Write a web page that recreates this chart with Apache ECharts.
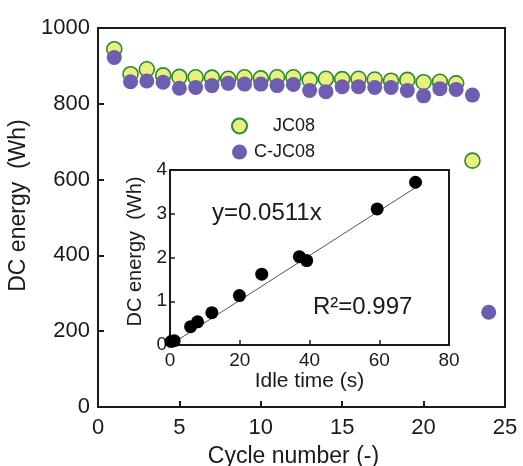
<!DOCTYPE html>
<html>
<head>
<meta charset="utf-8">
<script src="https://cdn.jsdelivr.net/npm/echarts@6/dist/echarts.min.js"></script>
<style>html,body{margin:0;padding:0;background:#fff}#c{width:523px;height:466px}</style>
</head>
<body>
<div id="c"></div>
<script>
// Main chart data
const cyclesJC08 = [1,2,3,4,5,6,7,8,9,10,11,12,13,14,15,16,17,18,19,20,21,22,23];
const valuesJC08 = [944,878,891,875,871,870,869,866,870,867,870,870,863,866,865,866,864,861,863,857,858,854,650];
const cyclesCJC08 = [1,2,3,4,5,6,7,8,9,10,11,12,13,14,15,16,17,18,19,20,21,22,23,24];
const valuesCJC08 = [922,858,860,857,841,843,848,854,852,852,848,851,835,832,845,845,843,843,835,821,840,838,823,250];
// Inset data
const idleTime = [0.3,1.2,5.9,7.9,12.0,19.9,26.3,37.1,39.2,59.4,70.4];
const idleEnergy = [0.08,0.1,0.42,0.53,0.74,1.13,1.62,2.02,1.93,3.11,3.72];
const fitLine = [[0,0],[72,3.68]];
const xTicksMain = [0,5,10,15,20,25];
const yTicksMain = [0,200,400,600,800,1000];

const FONT = 'Liberation Sans, Arial, Helvetica, sans-serif';
const AX = '#1a1a1a';
const pair = (xs, ys) => xs.map((x,i)=>[x, ys[i]]);
const plain = v => String(v);

const chart = echarts.init(document.getElementById('c'));
chart.setOption({
  animation: false,
  backgroundColor: '#fff',
  textStyle: {fontFamily: FONT, color: '#1a1a1a'},
  grid: [
    {left: 98, right: 18, top: 28, bottom: 59, show: true, borderColor: AX, borderWidth: 2, backgroundColor: 'transparent', containLabel: false, outerBoundsMode: 'none'},
    {left: 170, right: 74, top: 170, bottom: 121, show: true, borderColor: AX, borderWidth: 2, backgroundColor: '#fff', z: 5, containLabel: false, outerBoundsMode: 'none'}
  ],
  legend: {
    orient: 'vertical', left: 226, top: 112, itemWidth: 15, itemHeight: 15, itemGap: 8,
    icon: 'circle',
    data: ['JC08','C-JC08'],
    formatter: n => '{a|' + n + '}',
    textStyle: {fontSize: 18, fontFamily: FONT, color: '#1a1a1a', rich: {a: {width: 63, align: 'right', fontSize: 18, fontFamily: FONT}}}
  },
  xAxis: [
    {gridIndex: 0, type: 'value', min: xTicksMain[0], max: xTicksMain[xTicksMain.length-1], interval: 5,
     name: 'Cycle number (-)', nameLocation: 'middle', nameGap: 38,
     nameTextStyle: {fontSize: 23, fontFamily: FONT, color: '#1a1a1a', padding: [0,16,0,0]},
     axisLine: {show: true, lineStyle: {color: AX, width: 2}},
     axisTick: {show: true, inside: true, length: 6, lineStyle: {color: AX, width: 2}},
     axisLabel: {fontSize: 22, color: '#1a1a1a', margin: 10, fontFamily: FONT, formatter: plain},
     splitLine: {show: false}},
    {gridIndex: 1, type: 'value', min: 0, max: 80, interval: 20,
     name: 'Idle time (s)', nameLocation: 'middle', nameGap: 24,
     nameTextStyle: {fontSize: 21, fontFamily: FONT, color: '#1a1a1a'},
     axisLine: {show: true, lineStyle: {color: AX, width: 2}},
     axisTick: {show: true, inside: true, length: 5, lineStyle: {color: AX, width: 1.5}},
     axisLabel: {fontSize: 19, color: '#1a1a1a', margin: 6, fontFamily: FONT, formatter: plain},
     splitLine: {show: false}, z: 6}
  ],
  yAxis: [
    {gridIndex: 0, type: 'value', min: yTicksMain[0], max: yTicksMain[yTicksMain.length-1], interval: 200,
     name: 'DC energy  (Wh)', nameLocation: 'middle', nameGap: 63,
     nameTextStyle: {fontSize: 23, fontFamily: FONT, color: '#1a1a1a', padding: [0,0,0,24]},
     axisLine: {show: true, lineStyle: {color: AX, width: 2}},
     axisTick: {show: true, inside: true, length: 6, lineStyle: {color: AX, width: 2}},
     axisLabel: {fontSize: 22, color: '#1a1a1a', margin: 8, fontFamily: FONT, formatter: plain},
     splitLine: {show: false}},
    {gridIndex: 1, type: 'value', min: 0, max: 4, interval: 1,
     name: 'DC energy  (Wh)', nameLocation: 'middle', nameGap: 22,
     nameTextStyle: {fontSize: 20, fontFamily: FONT, color: '#1a1a1a', padding: [0,0,0,12]},
     axisLine: {show: true, lineStyle: {color: AX, width: 2}},
     axisTick: {show: true, inside: true, length: 5, lineStyle: {color: AX, width: 1.5}},
     axisLabel: {fontSize: 19, color: '#1a1a1a', margin: 3, fontFamily: FONT, formatter: plain},
     splitLine: {show: false}, z: 6}
  ],
  graphic: [
    {type: 'text', left: 212, top: 201, z: 20, style: {text: 'y=0.0511x', fontSize: 24, fontFamily: FONT, fill: '#1a1a1a'}},
    {type: 'text', left: 313, top: 295, z: 20, style: {text: 'R\u00B2=0.997', fontSize: 24, fontFamily: FONT, fill: '#1a1a1a'}}
  ],
  series: [
    {name: 'JC08', type: 'scatter', xAxisIndex: 0, yAxisIndex: 0, symbolSize: 15,
     itemStyle: {color: '#e8f07e', borderColor: '#2b8a33', borderWidth: 1.6, opacity: 1},
     data: pair(cyclesJC08, valuesJC08), z: 2},
    {name: 'C-JC08', type: 'scatter', xAxisIndex: 0, yAxisIndex: 0, symbolSize: 15,
     itemStyle: {color: '#6f5db2', opacity: 1},
     data: pair(cyclesCJC08, valuesCJC08), z: 3},
    {name: 'fit', type: 'line', xAxisIndex: 1, yAxisIndex: 1, symbol: 'none',
     lineStyle: {color: '#555', width: 1}, data: fitLine, z: 7, silent: true},
    {name: 'idle', type: 'scatter', xAxisIndex: 1, yAxisIndex: 1, symbolSize: 13,
     itemStyle: {color: '#000', opacity: 1}, data: pair(idleTime, idleEnergy), z: 8}
  ]
});
</script>
</body>
</html>
